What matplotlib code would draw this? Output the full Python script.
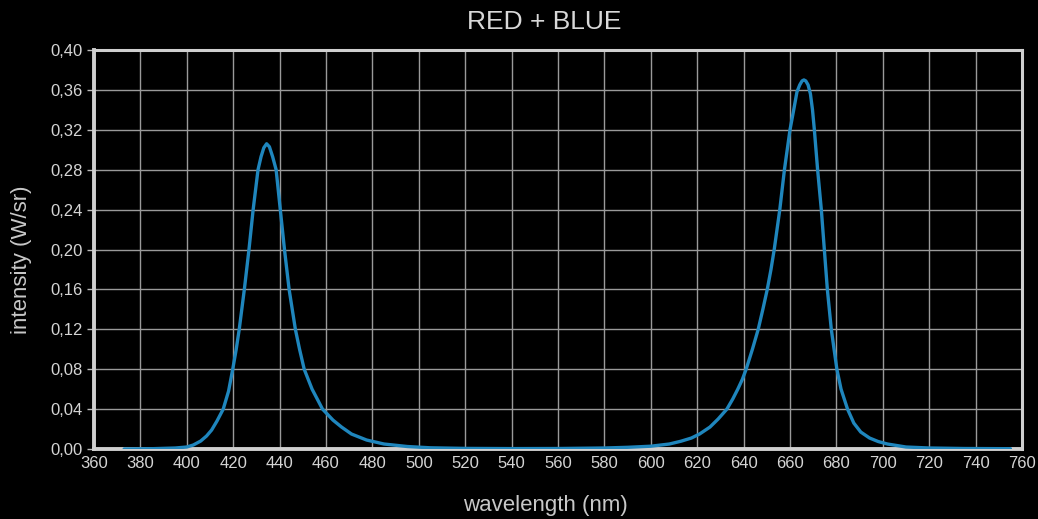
import matplotlib
matplotlib.use("Agg")
import matplotlib.pyplot as plt
from matplotlib.ticker import FuncFormatter, MultipleLocator

title = "RED + BLUE"
x_label = "wavelength (nm)"
y_label = "intensity (W/sr)"

wavelength = [373, 385, 395, 400, 402.8, 406, 408.5, 410.7, 413, 415.7, 418, 419.8,
              421.3, 422.6, 424.8, 426.8, 428.6, 430.7, 432.0, 433.2, 434.4, 435.6,
              437.0, 438.5, 440.3, 442.1, 444.1, 446.8, 448.6, 450.6, 454.0, 458.5,
              463, 466.7, 471, 477.5, 485, 495, 505, 520, 540, 560, 580, 590, 600,
              608, 613, 617.5, 621, 625.5, 629, 632.8, 635.3, 637.5, 639.5, 641.1,
              643.8, 646.3, 648.3, 650.2, 651.8, 653.2, 655.6, 657.6, 660.0, 661.6,
              663.0, 664.2, 665.2, 666.0, 666.8, 667.8, 668.8, 669.7, 670.5, 671.9,
              673.5, 674.8, 676.1, 677.8, 679.0, 680.2, 682.0, 684.8, 687.5, 690.5,
              694.3, 698, 702, 710, 720, 735, 755]
intensity = [0.0, 0.0003, 0.001, 0.002, 0.004, 0.008, 0.013, 0.019, 0.028, 0.040,
             0.058, 0.080, 0.100, 0.120, 0.160, 0.200, 0.240, 0.280, 0.293, 0.302,
             0.306, 0.303, 0.293, 0.280, 0.240, 0.200, 0.160, 0.120, 0.100, 0.080,
             0.060, 0.040, 0.029, 0.022, 0.015, 0.009, 0.005, 0.0025, 0.0012, 0.0006,
             0.0004, 0.0005, 0.001, 0.0017, 0.0028, 0.005, 0.0078, 0.011, 0.015,
             0.022, 0.030, 0.040, 0.050, 0.060, 0.070, 0.080, 0.100, 0.120, 0.140,
             0.160, 0.180, 0.200, 0.240, 0.280, 0.320, 0.340, 0.358, 0.365, 0.369,
             0.370, 0.369, 0.365, 0.356, 0.340, 0.320, 0.280, 0.240, 0.200, 0.160,
             0.120, 0.100, 0.080, 0.060, 0.040, 0.026, 0.017, 0.011, 0.0075, 0.005,
             0.002, 0.001, 0.0005, 0.0003]

plt.rcParams['font.family'] = ['Liberation Sans', 'DejaVu Sans']

W, H = 1038, 519
fig = plt.figure(figsize=(W/100, H/100), dpi=100, facecolor='black')
ax = fig.add_axes([94/W, 1 - 449/H, (1022 - 94)/W, (449 - 50)/H])
ax.set_facecolor('black')

ax.plot(wavelength, intensity, color='#1f86bd', linewidth=2.4,
        solid_joinstyle='round', solid_capstyle='round', zorder=3)

ax.set_xlim(360, 760)
ax.set_ylim(0, 0.40)
ax.xaxis.set_major_locator(MultipleLocator(20))
ax.yaxis.set_major_locator(MultipleLocator(0.04))
ax.yaxis.set_major_formatter(FuncFormatter(lambda v, p: f"{v:.2f}".replace('.', ',')))

ax.grid(True, color='#9a9a9a', linewidth=1.0)
ax.set_axisbelow(True)
for s in ax.spines.values():
    s.set_color('#cfcfcf')
    s.set_linewidth(2.2)
ax.spines['left'].set_linewidth(2.8)
ax.spines['bottom'].set_linewidth(2.8)

ax.tick_params(axis='y', labelcolor='#d4d4d4', color='#bbbbbb', labelsize=12,
               length=5, width=1, pad=3)
ax.tick_params(axis='x', labelcolor='#d4d4d4', labelsize=12, length=0, pad=5)

fig.text(544/W, 1 - 22/H, title, color='#d8d8d8', fontsize=19,
         ha='center', va='center')
fig.text(545/W, 1 - 505/H, x_label, color='#c8c8c8', fontsize=16,
         ha='center', va='center')
fig.text(22/W, 1 - 260/H, y_label, color='#c8c8c8', fontsize=16,
         ha='center', va='center', rotation=90)

fig.savefig('out.png', dpi=100, facecolor='black')
